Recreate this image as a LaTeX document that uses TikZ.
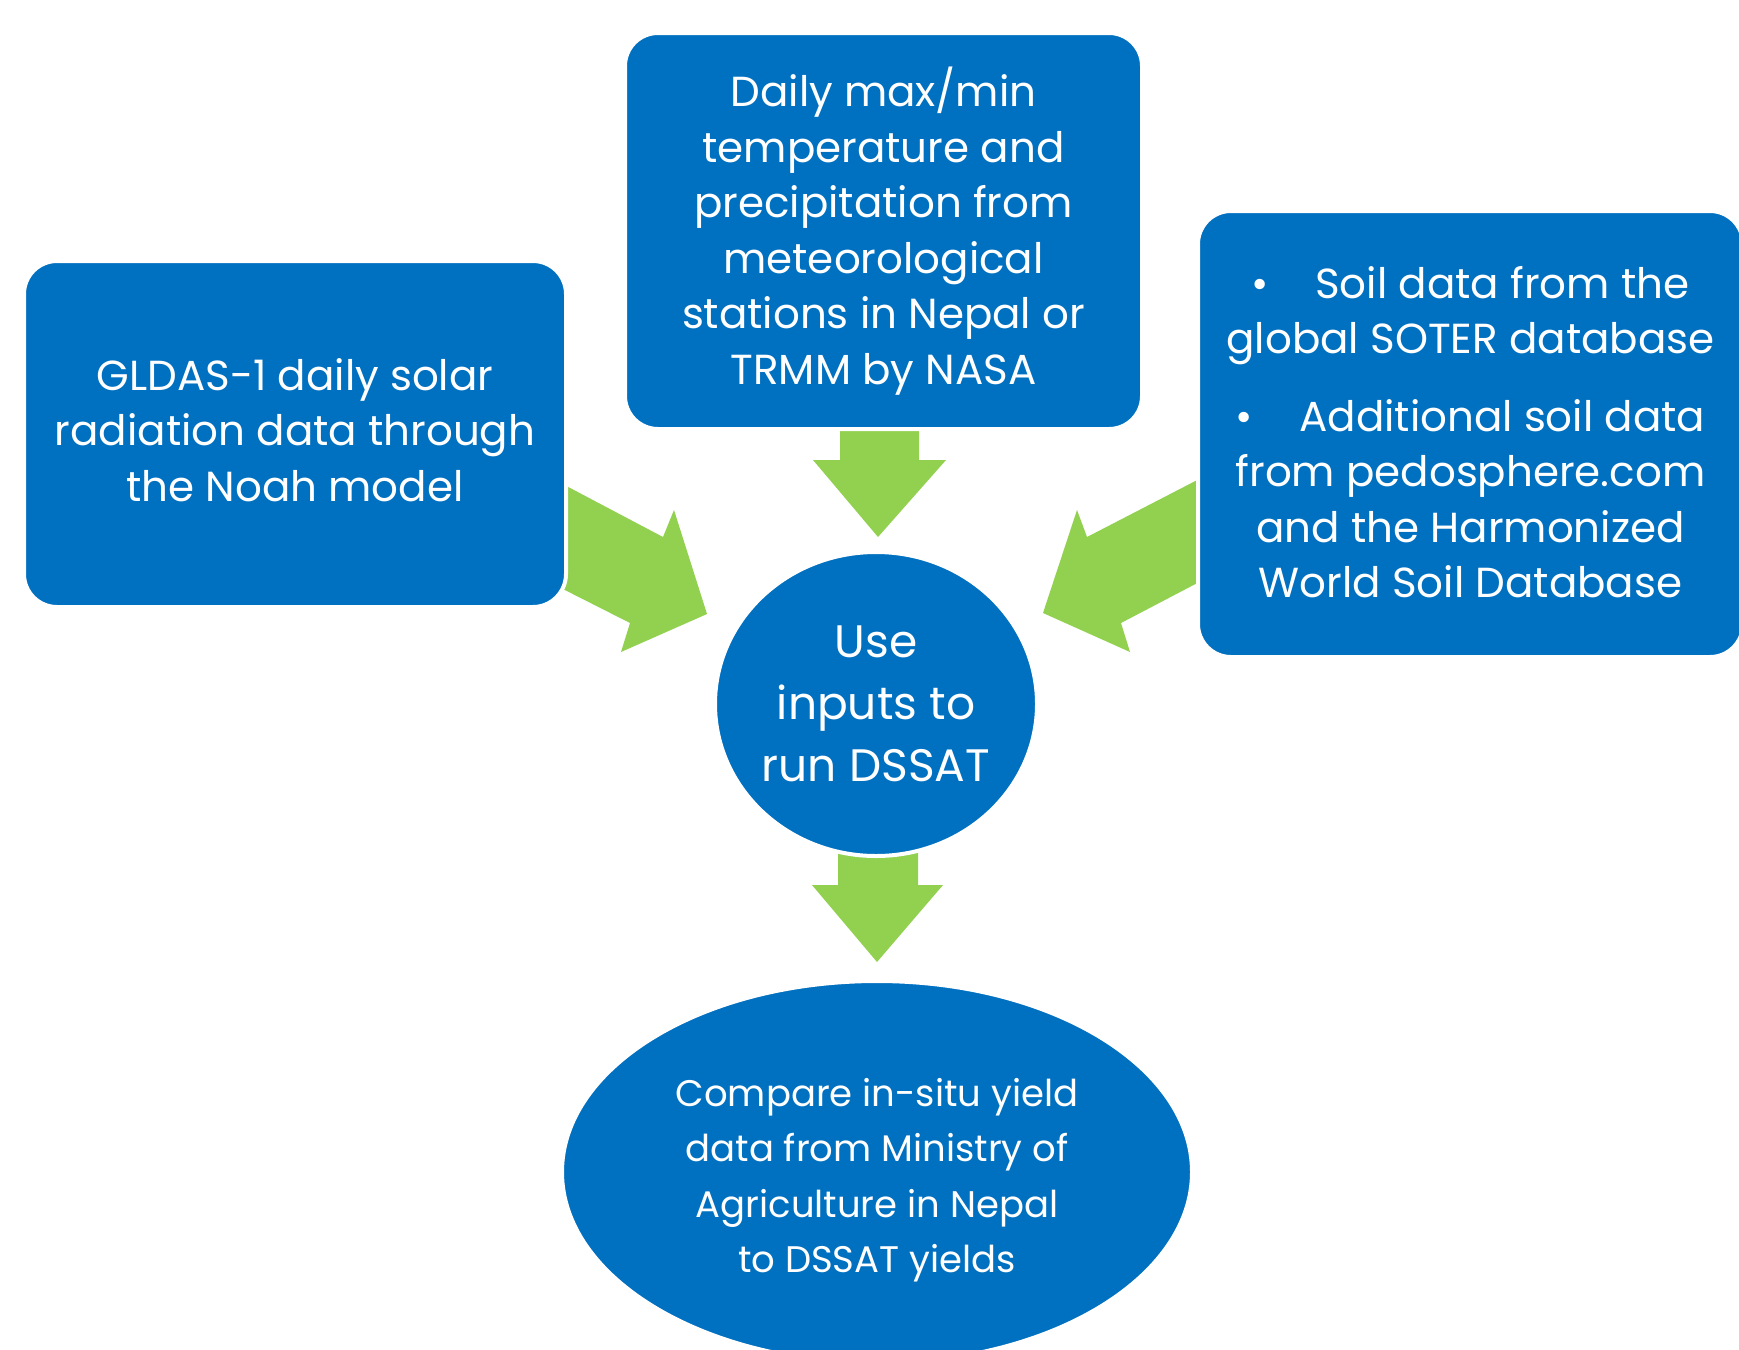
\documentclass[tikz,border=0pt]{standalone}
\usepackage{fontspec}
\setmainfont{Poppins}
\usetikzlibrary{shapes.geometric}
\definecolor{boxblue}{HTML}{0070C0}
\definecolor{arrowgreen}{HTML}{92D050}

\begin{document}
\begin{tikzpicture}[x=1pt,y=-1pt,
  panel/.style={fill=boxblue, draw=white, line width=4pt, rounded corners=33pt,
    text=white, align=center, inner sep=0pt},
  disc/.style={ellipse, fill=boxblue, draw=white, line width=4pt, inner sep=0pt},
  label/.style={text=white, align=center, inner sep=0pt},
  blockarrow/.style={fill=arrowgreen, draw=none},
  bodytext/.style={font=\fontsize{42}{55.5}\selectfont},
  smalltext/.style={font=\fontsize{37}{55.5}\selectfont},
  bigtext/.style={font=\fontsize{45.5}{62}\selectfont}]
\useasboundingbox[fill=white] (0,0) rectangle (1739,1349);

% green block arrows (drawn first, the panels sit on top of their tails)
\fill[blockarrow] (555,480) -- (663,537) -- (674,510) -- (707,614)
  -- (621,652) -- (630,623) -- (555,585) -- cycle;
\fill[blockarrow] (1205,476) -- (1087,537) -- (1077,510) -- (1043,613)
  -- (1130,652) -- (1121,623) -- (1205,579) -- cycle;
\fill[blockarrow] (840,420) -- (919,420) -- (919,460) -- (946,460)
  -- (878,537) -- (813,460) -- (840,460) -- cycle;
\fill[blockarrow] (838,840) -- (918,840) -- (918,885) -- (943,885)
  -- (877,962) -- (812,885) -- (838,885) -- cycle;

% input panels
\node[panel, minimum width=542pt, minimum height=346pt] (solar) at (295,434) {};
\node[label, bodytext] (solartext) at ([yshift=4pt]solar.center)
  {GLDAS-1 daily solar\\radiation data through\\the Noah model};
\node[panel, bodytext, minimum width=517pt, minimum height=396pt] (weather) at (883.5,231)
  {Daily max/min\\temperature and\\precipitation from\\meteorological\\stations in Nepal or\\TRMM by NASA};
\node[panel, minimum width=545pt, minimum height=446pt] (soil) at (1470.5,434) {};
\node[label, bodytext] (soiltext) at ([yshift=2pt]soil.center)
  {\textbullet\hspace{1.1em}Soil data from the\\global SOTER database\\[22pt]
   \textbullet\hspace{1.1em}Additional soil data\\from pedosphere.com\\and the Harmonized\\World Soil Database};

% model run and comparison
\node[disc, minimum width=322pt, minimum height=304pt] (dssat) at (876,704) {};
\node[label, bigtext] (dssattext) at (dssat.center) {Use\\inputs to\\run DSSAT};
\node[disc, minimum width=630pt, minimum height=382pt] (compare) at (877,1172) {};
\node[label, smalltext] (comparetext) at ([yshift=-8pt]compare.center)
  {Compare in-situ yield\\data from Ministry of\\Agriculture in Nepal\\to DSSAT yields};
\end{tikzpicture}
\end{document}
